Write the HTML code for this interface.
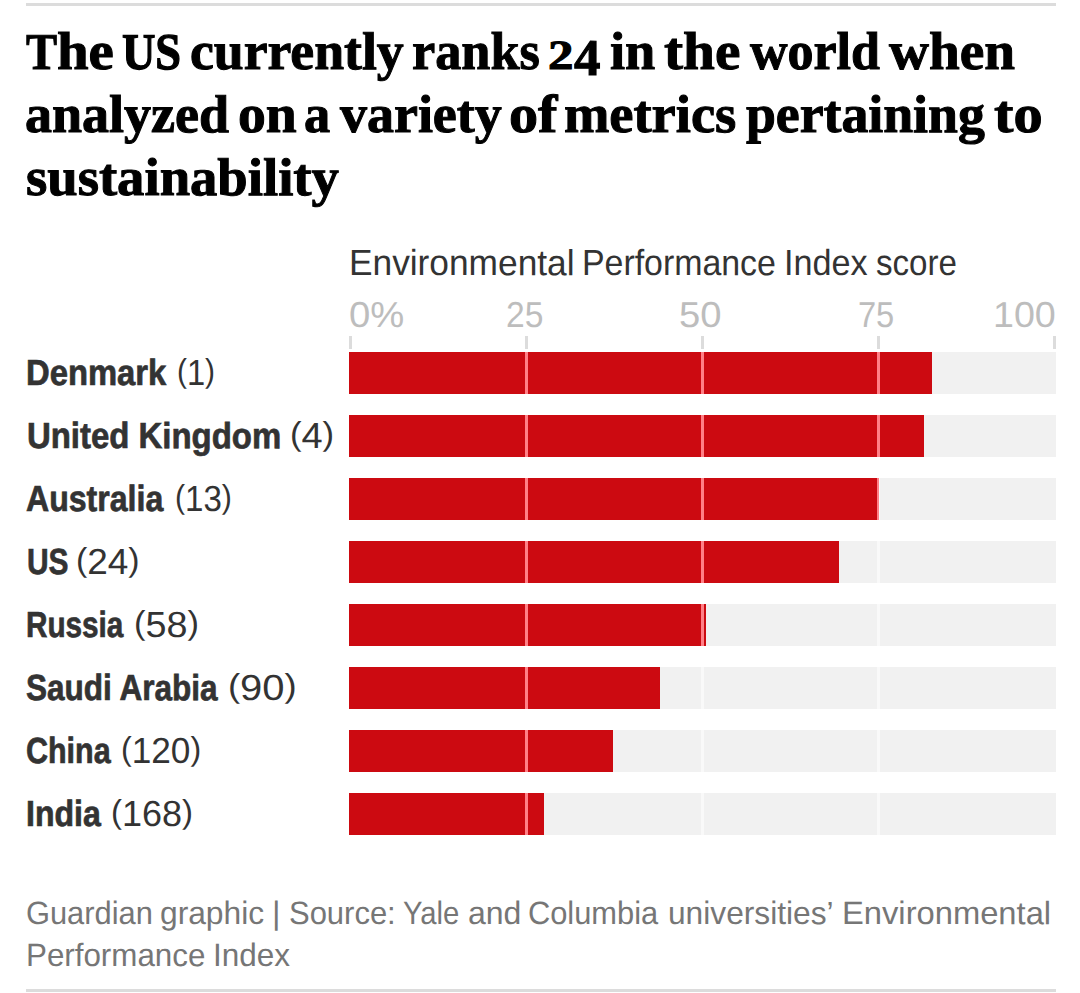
<!DOCTYPE html>
<html lang="en"><head><meta charset="utf-8"><title>Environmental Performance Index score</title><style>
html,body{margin:0;padding:0;background:#fff}
body{width:1080px;height:993px;position:relative;overflow:hidden;font-family:'Liberation Sans',sans-serif}
h1,footer,.chart,.subtitle,.axis,.row{margin:0;padding:0;font:inherit}
.t{position:absolute;display:block;white-space:nowrap;line-height:1;transform-origin:0 0;margin:0;padding:0}
.ti{font-family:'Liberation Serif',serif;font-weight:700;font-size:53.5px;color:#000;-webkit-text-stroke:1px #000}
.cap{font-size:51.5px}
.us{-webkit-text-stroke-width:1.3px}
.d2{font-size:41.5px}
.d4{font-size:51.5px}
.su{font-size:36.3px;color:#333}
.ax{font-size:36px;color:#bdbdbd}
.nm{font-size:36.3px;font-weight:700;color:#333;-webkit-text-stroke:.7px #333}
.rk{font-size:36.3px;color:#333}
.p{font-size:.913em;position:relative;top:-3px}
.ft{font-size:32.3px;color:#767676}
.rule{position:absolute;left:26px;width:1030px;height:3px;background:#dcdcdc}
.track{position:absolute;left:349px;width:707px;height:41.8px;background:#f1f1f1}
.bar{position:absolute;left:0;top:0;height:100%;background:#cc0a11;overflow:hidden}
.g{position:absolute;top:0;width:3px;height:100%;background:#f9f9f9}
.bar .g{background:#ff8087}
.tick{position:absolute;top:336px;width:3px;height:13px;background:#dcdcdc}

</style></head><body>
<div class="rule" style="top:3px"></div>
<h1><span class="t ti cap" style="left:25.97px;top:26px;transform:scaleX(0.9037) rotate(.05deg)">T</span><span class="t ti" style="left:57.00px;top:25px;transform:scaleX(1.0628) rotate(.05deg)">he</span> <span class="t ti cap us" style="left:122.35px;top:26px;transform:scaleX(0.8973) rotate(.05deg)">US</span> <span class="t ti" style="left:189.65px;top:25px;transform:scaleX(1.0035) rotate(.05deg)">currently</span> <span class="t ti" style="left:412.37px;top:25px;transform:scaleX(0.9772) rotate(.05deg)">ranks</span> <span class="t ti d2" style="left:548.47px;top:35px;transform:scaleX(1.2274) rotate(.05deg)">2</span><span class="t ti d4" style="left:574.00px;top:32px;transform:scaleX(1.0297) rotate(.05deg)">4</span> <span class="t ti" style="left:610.09px;top:25px;transform:scaleX(1.0149) rotate(.05deg)">in</span> <span class="t ti" style="left:663.93px;top:25px;transform:scaleX(1.0705) rotate(.05deg)">the</span> <span class="t ti" style="left:750.29px;top:25px;transform:scaleX(0.9716) rotate(.05deg)">world</span> <span class="t ti" style="left:888.62px;top:25px;transform:scaleX(1.0336) rotate(.05deg)">when</span> <span class="t ti" style="left:25.34px;top:88px;transform:scaleX(1.0102) rotate(.05deg)">analyzed</span> <span class="t ti" style="left:237.64px;top:88px;transform:scaleX(1.0393) rotate(.05deg)">on</span> <span class="t ti" style="left:304.38px;top:88px;transform:scaleX(0.9782) rotate(.05deg)">a</span> <span class="t ti" style="left:340.10px;top:88px;transform:scaleX(1.0087) rotate(.05deg)">variety</span> <span class="t ti" style="left:509.47px;top:88px;transform:scaleX(1.0864) rotate(.05deg)">of</span> <span class="t ti" style="left:564.14px;top:88px;transform:scaleX(1.0176) rotate(.05deg)">metrics</span> <span class="t ti" style="left:745.60px;top:88px;transform:scaleX(1.0044) rotate(.05deg)">pertaining</span> <span class="t ti" style="left:993.93px;top:88px;transform:scaleX(1.0901) rotate(.05deg)">to</span> <span class="t ti" style="left:25.98px;top:151px;transform:scaleX(1.0218) rotate(.05deg)">sustainability</span></h1>
<div class="chart">
<div class="subtitle"><span class="t su" style="left:348.88px;top:245px;transform:scaleX(0.9722) rotate(.05deg)">Environmental</span> <span class="t su" style="left:581.60px;top:245px;transform:scaleX(0.9333) rotate(.05deg)">Performance</span> <span class="t su" style="left:783.64px;top:245px;transform:scaleX(0.9412) rotate(.05deg)">Index</span> <span class="t su" style="left:876.39px;top:245px;transform:scaleX(0.9125) rotate(.05deg)">score</span></div>
<div class="axis"><span class="t ax" style="left:349.11px;top:297px;transform:scaleX(1.0619) rotate(.05deg)">0%</span> <span class="t ax" style="left:505.67px;top:297px;transform:scaleX(0.9333) rotate(.05deg)">25</span> <span class="t ax" style="left:679.21px;top:297px;transform:scaleX(1.0604) rotate(.05deg)">50</span> <span class="t ax" style="left:858.41px;top:297px;transform:scaleX(0.9061) rotate(.05deg)">75</span> <span class="t ax" style="left:993.13px;top:297px;transform:scaleX(1.0446) rotate(.05deg)">100</span><i class="tick" style="left:349px"></i><i class="tick" style="left:525px"></i><i class="tick" style="left:701px"></i><i class="tick" style="left:877px"></i><i class="tick" style="left:1053px"></i></div>
<div class="row"><span class="t nm" style="left:26.29px;top:355px;transform:scaleX(0.9032) rotate(.05deg)">Denmark</span> <span class="t rk" style="left:177.00px;top:355px;transform:scaleX(0.8993) rotate(.05deg)"><span class="p">(</span>1<span class="p">)</span></span><div class="track" style="top:352px"><i class="g" style="left:176px"></i><i class="g" style="left:352px"></i><i class="g" style="left:528px"></i><div class="bar" style="width:583.3px"><i class="g" style="left:176px"></i><i class="g" style="left:352px"></i><i class="g" style="left:528px"></i></div></div></div>
<div class="row"><span class="t nm" style="left:26.51px;top:418px;transform:scaleX(0.9071) rotate(.05deg)">United Kingdom</span> <span class="t rk" style="left:289.61px;top:418px;transform:scaleX(1.0458) rotate(.05deg)"><span class="p">(</span>4<span class="p">)</span></span><div class="track" style="top:415px"><i class="g" style="left:176px"></i><i class="g" style="left:352px"></i><i class="g" style="left:528px"></i><div class="bar" style="width:574.8px"><i class="g" style="left:176px"></i><i class="g" style="left:352px"></i><i class="g" style="left:528px"></i></div></div></div>
<div class="row"><span class="t nm" style="left:26.36px;top:481px;transform:scaleX(0.8836) rotate(.05deg)">Australia</span> <span class="t rk" style="left:174.88px;top:481px;transform:scaleX(0.9111) rotate(.05deg)"><span class="p">(</span>13<span class="p">)</span></span><div class="track" style="top:478px"><i class="g" style="left:176px"></i><i class="g" style="left:352px"></i><i class="g" style="left:528px"></i><div class="bar" style="width:529.5px"><i class="g" style="left:176px"></i><i class="g" style="left:352px"></i><i class="g" style="left:528px"></i></div></div></div>
<div class="row"><span class="t nm" style="left:26.66px;top:544px;transform:scaleX(0.8232) rotate(.05deg)">US</span> <span class="t rk" style="left:75.96px;top:544px;transform:scaleX(1.0188) rotate(.05deg)"><span class="p">(</span>24<span class="p">)</span></span><div class="track" style="top:541px"><i class="g" style="left:176px"></i><i class="g" style="left:352px"></i><i class="g" style="left:528px"></i><div class="bar" style="width:490.0px"><i class="g" style="left:176px"></i><i class="g" style="left:352px"></i><i class="g" style="left:528px"></i></div></div></div>
<div class="row"><span class="t nm" style="left:26.46px;top:607px;transform:scaleX(0.8179) rotate(.05deg)">Russia</span> <span class="t rk" style="left:134.02px;top:607px;transform:scaleX(1.0393) rotate(.05deg)"><span class="p">(</span>58<span class="p">)</span></span><div class="track" style="top:604px"><i class="g" style="left:176px"></i><i class="g" style="left:352px"></i><i class="g" style="left:528px"></i><div class="bar" style="width:357.0px"><i class="g" style="left:176px"></i><i class="g" style="left:352px"></i><i class="g" style="left:528px"></i></div></div></div>
<div class="row"><span class="t nm" style="left:26.35px;top:670px;transform:scaleX(0.8686) rotate(.05deg)">Saudi Arabia</span> <span class="t rk" style="left:228.40px;top:670px;transform:scaleX(1.1009) rotate(.05deg)"><span class="p">(</span>90<span class="p">)</span></span><div class="track" style="top:667px"><i class="g" style="left:176px"></i><i class="g" style="left:352px"></i><i class="g" style="left:528px"></i><div class="bar" style="width:311.1px"><i class="g" style="left:176px"></i><i class="g" style="left:352px"></i><i class="g" style="left:528px"></i></div></div></div>
<div class="row"><span class="t nm" style="left:25.95px;top:733px;transform:scaleX(0.8389) rotate(.05deg)">China</span> <span class="t rk" style="left:121.36px;top:733px;transform:scaleX(0.9694) rotate(.05deg)"><span class="p">(</span>120<span class="p">)</span></span><div class="track" style="top:730px"><i class="g" style="left:176px"></i><i class="g" style="left:352px"></i><i class="g" style="left:528px"></i><div class="bar" style="width:263.7px"><i class="g" style="left:176px"></i><i class="g" style="left:352px"></i><i class="g" style="left:528px"></i></div></div></div>
<div class="row"><span class="t nm" style="left:26.43px;top:796px;transform:scaleX(0.8829) rotate(.05deg)">India</span> <span class="t rk" style="left:111.32px;top:796px;transform:scaleX(0.9911) rotate(.05deg)"><span class="p">(</span>168<span class="p">)</span></span><div class="track" style="top:793px"><i class="g" style="left:176px"></i><i class="g" style="left:352px"></i><i class="g" style="left:528px"></i><div class="bar" style="width:195.1px"><i class="g" style="left:176px"></i><i class="g" style="left:352px"></i><i class="g" style="left:528px"></i></div></div></div>
</div>
<footer><span class="t ft" style="left:25.87px;top:897px;transform:scaleX(0.9547) rotate(.05deg)">Guardian</span> <span class="t ft" style="left:160.07px;top:897px;transform:scaleX(0.9831) rotate(.05deg)">graphic</span> <span class="t ft" style="left:272.20px;top:897px;transform:scaleX(1.0182) rotate(.05deg)">|</span> <span class="t ft" style="left:289.26px;top:897px;transform:scaleX(0.9589) rotate(.05deg)">Source:</span> <span class="t ft" style="left:403.32px;top:897px;transform:scaleX(0.9050) rotate(.05deg)">Yale</span> <span class="t ft" style="left:468.06px;top:897px;transform:scaleX(0.9901) rotate(.05deg)">and</span> <span class="t ft" style="left:528.07px;top:897px;transform:scaleX(0.9541) rotate(.05deg)">Columbia</span> <span class="t ft" style="left:668.04px;top:897px;transform:scaleX(0.9815) rotate(.05deg)">universities’</span> <span class="t ft" style="left:842.47px;top:897px;transform:scaleX(1.0131) rotate(.05deg)">Environmental</span> <span class="t ft" style="left:25.57px;top:939px;transform:scaleX(0.9702) rotate(.05deg)">Performance</span> <span class="t ft" style="left:212.68px;top:939px;transform:scaleX(0.9748) rotate(.05deg)">Index</span></footer>
<div class="rule" style="top:989px"></div>
</body></html>
